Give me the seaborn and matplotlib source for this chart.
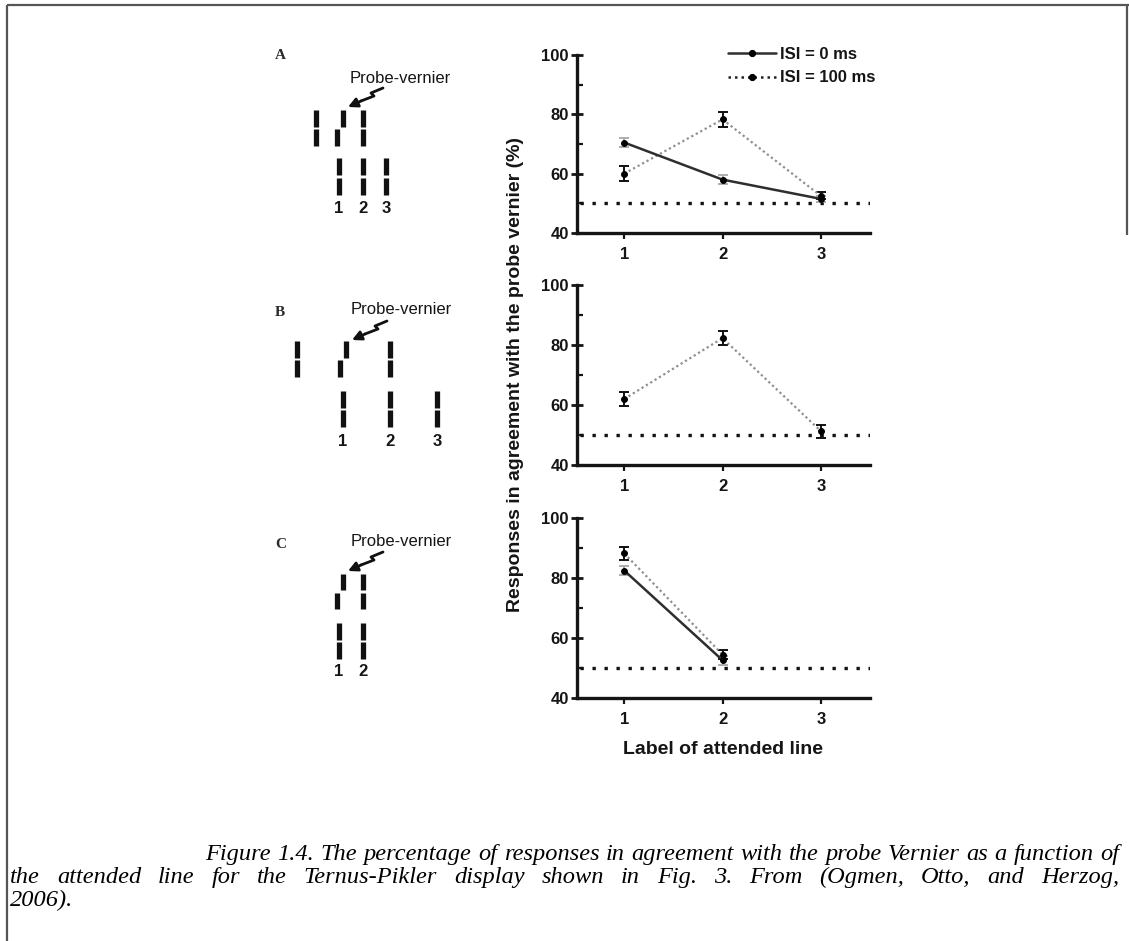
import numpy as np
import pandas as pd
import matplotlib
matplotlib.use("Agg")
import matplotlib.pyplot as plt
import seaborn as sns
from matplotlib.lines import Line2D

# ---------------- data ----------------
line_labels = [1, 2, 3]
series_names = ["ISI = 0 ms", "ISI = 100 ms"]

a_isi0 = [70.5, 58.0, 51.5]
a_isi0_err = [1.6, 1.5, 1.0]
a_isi100 = [60.0, 78.3, 52.5]
a_isi100_err = [2.5, 2.5, 1.2]

b_isi100 = [62.0, 82.3, 51.3]
b_isi100_err = [2.3, 2.3, 2.2]

c_lines = [1, 2]
c_isi0 = [82.5, 52.6]
c_isi0_err = [1.5, 1.5]
c_isi100 = [88.2, 54.5]
c_isi100_err = [2.2, 1.5]

chance_level = 50
y_major = [40, 60, 80, 100]
y_minor = [50, 70, 90]
panel_letters = ["A", "B", "C"]
ylabel_text = "Responses in agreement with the probe vernier (%)"
xlabel_text = "Label of attended line"
caption_lines = [
    "Figure 1.4. The percentage of responses in agreement with the probe Vernier as a function of",
    "the attended line for the Ternus-Pikler display shown in Fig. 3. From (Ogmen, Otto, and Herzog,",
    "2006).",
]

# ---------------- style ----------------
sns.set_style("ticks")
plt.rcParams["font.family"] = ["Liberation Sans", "DejaVu Sans"]
plt.rcParams["font.weight"] = "bold"
plt.rcParams["axes.labelweight"] = "bold"

W, H = 1129, 941
fig = plt.figure(figsize=(W / 100, H / 100), dpi=100)

# overlay for the schematic drawings, caption and frame (pixel coordinates)
ov = fig.add_axes([0, 0, 1, 1])
ov.set_xlim(0, W)
ov.set_ylim(H, 0)
ov.axis("off")
ov.patch.set_alpha(0)


def rect(left, top, right, bottom):
    return [left / W, 1 - bottom / H, (right - left) / W, (bottom - top) / H]


panel_boxes = [(577, 55, 870, 233), (577, 285, 870, 465), (577, 518, 870, 698)]

SOLID_C = "#2e2e2e"
DOT_C = "#8f8f8f"
ERR_LIGHT = "#a8a8a8"


def draw_series(ax, xs, ys, errs, kind):
    df = pd.DataFrame({"line": xs, "resp": ys})
    if kind == "solid":
        ax.errorbar(xs, ys, yerr=errs, fmt="none", ecolor=ERR_LIGHT,
                    elinewidth=1.3, capsize=3.3, capthick=1.3, zorder=2)
        sns.lineplot(data=df, x="line", y="resp", ax=ax, color=SOLID_C,
                     linewidth=1.8, marker="o", markersize=4.2,
                     markerfacecolor="k", markeredgecolor="k", zorder=4)
    else:
        ax.errorbar(xs, ys, yerr=errs, fmt="none", ecolor="#111111",
                    elinewidth=1.4, capsize=3.3, capthick=1.4, zorder=2)
        sns.lineplot(data=df, x="line", y="resp", ax=ax, color=DOT_C,
                     linewidth=1.6, linestyle=(0, (1, 1.3)), marker="o",
                     markersize=4.2, markerfacecolor="k",
                     markeredgecolor="k", zorder=3)


panel_series = [
    [(line_labels, a_isi0, a_isi0_err, "solid"), (line_labels, a_isi100, a_isi100_err, "dot")],
    [(line_labels, b_isi100, b_isi100_err, "dot")],
    [(c_lines, c_isi0, c_isi0_err, "solid"), (c_lines, c_isi100, c_isi100_err, "dot")],
]

axes = []
for box, series in zip(panel_boxes, panel_series):
    ax = fig.add_axes(rect(*box))
    ax.patch.set_alpha(0)
    ax.axhline(chance_level, xmin=0.01, xmax=1.0, color="#111111",
               linewidth=2.4, linestyle=(0, (1, 2.6)), zorder=1)
    for xs, ys, errs, kind in series:
        draw_series(ax, xs, ys, errs, kind)
    ax.set_xlim(0.52, 3.5)
    ax.set_ylim(40, 100)
    ax.set_xticks(line_labels)
    ax.set_xticklabels([str(v) for v in line_labels])
    ax.set_yticks(y_major)
    ax.set_yticklabels([str(v) for v in y_major])
    ax.set_yticks(y_minor, minor=True)
    ax.set_xlabel("")
    ax.set_ylabel("")
    sns.despine(ax=ax)
    for s in ["left", "bottom"]:
        ax.spines[s].set_linewidth(2.4)
        ax.spines[s].set_color("#151515")
    ax.tick_params(axis="y", which="major", direction="inout", length=8,
                   width=2.0, labelsize=12, pad=2, color="#151515")
    ax.tick_params(axis="y", which="minor", direction="in", length=4,
                   width=1.6, color="#151515")
    ax.tick_params(axis="x", which="major", direction="out", length=4,
                   width=1.6, labelsize=12, pad=6, color="#151515")
    for lbl in ax.get_xticklabels() + ax.get_yticklabels():
        lbl.set_fontweight("bold")
        lbl.set_color("#151515")
    axes.append(ax)

# legend in panel A
handles = [
    Line2D([], [], color=SOLID_C, linewidth=1.8, marker="o", markersize=4.2,
           markerfacecolor="k", markeredgecolor="k"),
    Line2D([], [], color="#222222", linewidth=1.8, linestyle=(0, (1, 1.6)),
           marker="o", markersize=4.2, markerfacecolor="k", markeredgecolor="k"),
]
leg = axes[0].legend(handles, series_names, loc="upper left",
                     bbox_to_anchor=(728 / W, 1 - 47 / H),
                     bbox_transform=fig.transFigure, frameon=False,
                     handlelength=2.85, handletextpad=0.25, labelspacing=0.5,
                     borderpad=0, borderaxespad=0,
                     prop={"size": 12, "weight": "bold"})
for t in leg.get_texts():
    t.set_color("#151515")

# axis labels
fig.text(516 / W, 1 - 374 / H, ylabel_text, rotation=90, ha="center",
         va="center", fontsize=14, fontweight="bold", color="#151515")
fig.text(723 / W, 1 - 750 / H, xlabel_text, ha="center", va="center",
         fontsize=14, fontweight="bold", color="#151515")

# ---------------- schematic stimuli ----------------
BAR_LW = 3.8
GAP = 1.2


def full_bar(x, top, bottom):
    mid = (top + bottom) / 2
    ov.plot([x, x], [top, mid - GAP], color="#111111", lw=BAR_LW, solid_capstyle="butt")
    ov.plot([x, x], [mid + GAP, bottom], color="#111111", lw=BAR_LW, solid_capstyle="butt")


def vernier(x_up, x_low, top, bottom):
    mid = (top + bottom) / 2
    ov.plot([x_up, x_up], [top, mid - GAP], color="#111111", lw=BAR_LW, solid_capstyle="butt")
    ov.plot([x_low, x_low], [mid + GAP, bottom], color="#111111", lw=BAR_LW, solid_capstyle="butt")


def probe_arrow(tip):
    tx, ty = tip
    tail = (tx + 35, ty - 19)
    pts = [(0, 0), (-12, 5), (-9, 8), (-22, 13)]
    xs = [tail[0] + p[0] for p in pts]
    ys = [tail[1] + p[1] for p in pts]
    ov.plot(xs, ys, color="#111111", lw=2.0, solid_capstyle="round",
            solid_joinstyle="round")
    ov.annotate("", xy=(tx, ty), xytext=(xs[-1], ys[-1]),
                arrowprops=dict(arrowstyle="-|>,head_length=0.55,head_width=0.28",
                                color="#111111", lw=2.0, shrinkA=0, shrinkB=0))


def label(x, y, s):
    ov.text(x, y, s, ha="center", va="center", fontsize=12,
            fontweight="bold", color="#151515")


# Panel A stimulus
ov.text(280, 55, panel_letters[0], ha="center", va="center", fontsize=11,
        family="Liberation Serif", fontweight="bold", color="#2a2a2a")
ov.text(350, 78, "Probe-vernier", ha="left", va="center", fontsize=12,
        fontweight="normal", color="#151515")
probe_arrow((348, 107))
full_bar(316, 110, 146)
vernier(343, 337, 110, 146)
full_bar(363, 110, 146)
for x in (339, 363, 386):
    full_bar(x, 158, 195)
for x, s in zip((339, 363, 386), ("1", "2", "3")):
    label(x, 208, s)

# Panel B stimulus
ov.text(280, 313, panel_letters[1], ha="center", va="center", fontsize=11,
        family="Liberation Serif", fontweight="bold", color="#2a2a2a")
ov.text(351, 310, "Probe-vernier", ha="left", va="center", fontsize=12,
        fontweight="normal", color="#151515")
probe_arrow((352, 340))
full_bar(297, 341, 377)
vernier(346, 340, 341, 377)
full_bar(390, 341, 377)
for x in (343, 390, 437):
    full_bar(x, 391, 427)
for x, s in zip((343, 390, 437), ("1", "2", "3")):
    label(x, 441, s)

# Panel C stimulus
ov.text(281, 544, panel_letters[2], ha="center", va="center", fontsize=11,
        family="Liberation Serif", fontweight="bold", color="#2a2a2a")
ov.text(351, 542, "Probe-vernier", ha="left", va="center", fontsize=12,
        fontweight="normal", color="#151515")
probe_arrow((348, 571))
vernier(343, 337, 574, 609)
full_bar(363, 574, 609)
for x in (339, 363):
    full_bar(x, 623, 659)
for x, s in zip((339, 363), ("1", "2")):
    label(x, 672, s)

# ---------------- caption ----------------
renderer = fig.canvas.get_renderer()
cap_font = dict(family="Liberation Serif", style="italic", fontweight="normal",
                color="black")

# pick a size so that the first line fills its measure with near-normal spacing
probe = ov.text(0, 0, caption_lines[0], fontsize=16, **cap_font)
natural = probe.get_window_extent(renderer).width
probe.remove()
cap_size = 16 * 905 / natural
cap_font["fontsize"] = cap_size


def justified(text, x0, x1, y):
    words = text.split(" ")
    objs = [ov.text(0, y, w, ha="left", va="baseline", **cap_font) for w in words]
    widths = [o.get_window_extent(renderer).width for o in objs]
    gap = (x1 - x0 - sum(widths)) / (len(words) - 1)
    x = x0
    for o, w in zip(objs, widths):
        o.set_x(x)
        x += w + gap


justified(caption_lines[0], 205, 1119, 860)
justified(caption_lines[1], 10, 1119, 883)
ov.text(10, 906, caption_lines[2], ha="left", va="baseline", **cap_font)

# ---------------- frame ----------------
ov.plot([7, W], [5, 5], color="#555555", lw=1.6, solid_capstyle="butt")
ov.plot([7, 7], [5, H], color="#555555", lw=1.6, solid_capstyle="butt")
ov.plot([W - 2, W - 2], [5, 235], color="#555555", lw=1.6, solid_capstyle="butt")

fig.savefig("out.png", dpi=100)
